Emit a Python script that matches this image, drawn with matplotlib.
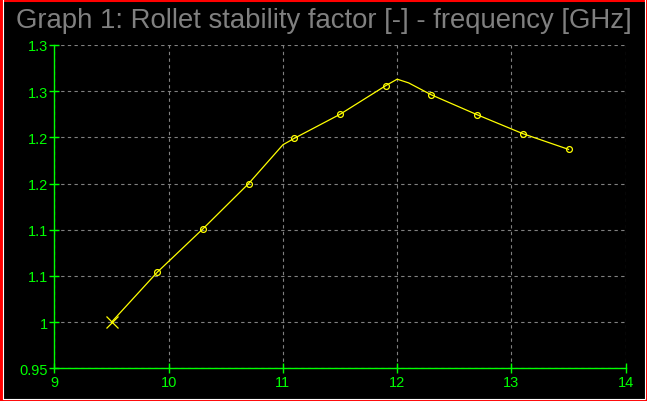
import matplotlib
matplotlib.use("Agg")
import matplotlib.pyplot as plt
from matplotlib.patches import Rectangle

# values
freq = [9.5, 9.9, 10.3, 10.7, 11.0, 11.1, 11.5, 11.9, 12.0, 12.1, 12.3, 12.7, 13.1, 13.5]
rollet = [1.000, 1.054, 1.101, 1.150, 1.192, 1.199, 1.225, 1.256, 1.263, 1.259,
          1.246, 1.2245, 1.204, 1.187]
marker_freq = [9.9, 10.3, 10.7, 11.1, 11.5, 11.9, 12.3, 12.7, 13.1, 13.5]
start_freq = 9.5
start_val = 1.0

x_ticks = [9, 10, 11, 12, 13, 14]
y_ticks = [0.95, 1.0, 1.05, 1.10, 1.15, 1.20, 1.25, 1.30]
y_labels = ["0.95", "1", "1.1", "1.1", "1.2", "1.2", "1.3", "1.3"]

GREEN = "#00ff00"
YELLOW = "#ffff00"
GREY = "#808080"

plt.rcParams['font.family'] = ['Liberation Sans', 'DejaVu Sans']

fig = plt.figure(figsize=(6.47, 4.02), dpi=100, facecolor="black")
ax = fig.add_axes([54.4 / 647, 1 - 369.3 / 402, (625.7 - 54.4) / 647, (369.3 - 46) / 402])
ax.set_facecolor("black")

# frame around the whole figure
fig.patches.append(Rectangle((0.5 / 647, 0.5 / 402), 646 / 647, 401 / 402,
                             transform=fig.transFigure, fill=False,
                             edgecolor="red", linewidth=2.2))
fig.patches.append(Rectangle((2.5 / 647, 2.5 / 402), 642 / 647, 410 / 402,
                             transform=fig.transFigure, fill=False,
                             edgecolor="white", linewidth=0.8))

marker_idx = [freq.index(f) for f in marker_freq]
ax.plot(freq, rollet, color=YELLOW, linewidth=0.9, marker="o", markersize=4.2,
        markerfacecolor="none", markeredgecolor=YELLOW, markeredgewidth=0.9,
        markevery=marker_idx, zorder=3)
ax.plot([start_freq], [start_val], marker="x", color=YELLOW, markersize=9,
        markeredgewidth=0.9, linestyle="none", zorder=4)

ax.set_xlim(9, 14)
ax.set_ylim(0.95, 1.30)
ax.set_xticks(x_ticks)
ax.set_xticklabels([str(t) for t in x_ticks])
ax.set_yticks(y_ticks)
ax.set_yticklabels(y_labels)

ax.grid(True, color=GREY, linestyle=(0, (3, 3)), linewidth=0.8)
ax.set_axisbelow(True)

for side in ("top", "right"):
    ax.spines[side].set_visible(False)
for side in ("left", "bottom"):
    ax.spines[side].set_color(GREEN)
    ax.spines[side].set_linewidth(1.0)
ax.spines["left"].set_zorder(5)
ax.spines["bottom"].set_zorder(5)

ax.tick_params(colors=GREEN, labelcolor=GREEN, direction="inout", length=7,
               width=1.0, labelsize=10.5, pad=1)

fig.text(0.5, 1 - 21 / 402, "Graph 1: Rollet stability factor [-] - frequency [GHz]",
         color=GREY, fontsize=19.8, ha="center", va="center")

fig.savefig("out.png", dpi=100, facecolor="black")
